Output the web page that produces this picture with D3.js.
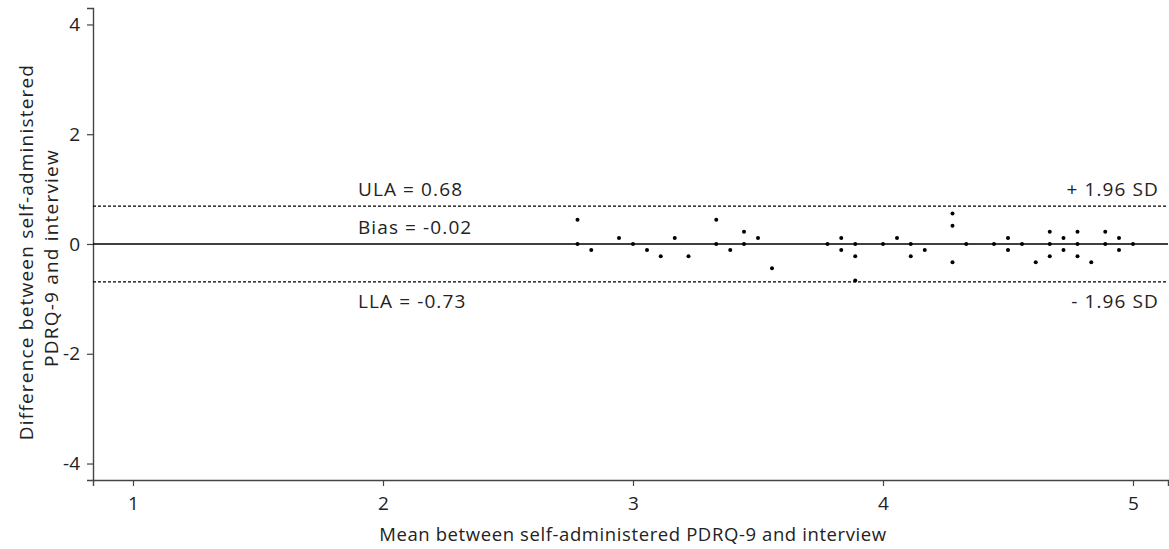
<!DOCTYPE html>
<html>
<head>
<meta charset="utf-8">
<script src="https://cdn.jsdelivr.net/npm/d3@7"></script>
<style>
  body { margin: 0; background: #fff; }
  svg text { font-family: "Open Sans", sans-serif; fill: #222; }
</style>
</head>
<body>
<div id="chart"></div>
<script>
// Bland-Altman: mean vs difference (self-administered vs interview)
var meanVals = [2.778, 2.778, 2.833, 2.944, 3.000, 3.056, 3.111, 3.167, 3.222,
    3.333, 3.333, 3.389, 3.444, 3.444, 3.500, 3.556,
    3.778, 3.833, 3.833, 3.889, 3.889, 3.889, 4.000, 4.056, 4.111, 4.111, 4.167,
    4.278, 4.278, 4.278, 4.333, 4.444, 4.500, 4.500, 4.556, 4.611,
    4.667, 4.667, 4.667, 4.722, 4.722, 4.778, 4.778, 4.778, 4.833,
    4.889, 4.889, 4.944, 4.944, 5.000];
var diffVals = [0.444, 0.000, -0.111, 0.111, 0.000, -0.111, -0.222, 0.111, -0.222,
    0.444, 0.000, -0.111, 0.222, 0.000, 0.111, -0.444,
    0.000, 0.111, -0.111, 0.000, -0.222, -0.667, 0.000, 0.111, 0.000, -0.222, -0.111,
    0.556, 0.333, -0.333, 0.000, 0.000, 0.111, -0.111, 0.000, -0.333,
    0.222, 0.000, -0.222, 0.111, -0.111, 0.222, 0.000, -0.222, -0.333,
    0.222, 0.000, 0.111, -0.111, 0.000];
var xTicks = [1, 2, 3, 4, 5];
var yTicks = [4, 2, 0, -2, -4];
// reference lines as drawn: upper limit, bias, lower limit
var refLines = [0.69, 0, -0.69];
var leftLabels = ["ULA = 0.68", "Bias = -0.02", "LLA = -0.73"];
var rightLabels = ["+ 1.96 SD", "", "- 1.96 SD"];
var xTitle = "Mean between self-administered PDRQ-9 and interview";
var yTitle = ["Difference between self-administered", "PDRQ-9 and interview"];

var width = 1169, height = 549;
var margin = { top: 8, right: 1, bottom: 69, left: 93 };

var svg = d3.select('#chart').append('svg')
    .attr('width', width)
    .attr('height', height);

var x = d3.scaleLinear().domain([0.84, 5.14]).range([margin.left, width - margin.right]);
var y = d3.scaleLinear().domain([-4.3, 4.3]).range([height - margin.bottom, margin.top]);

// plain hyphen for negatives, like the original
var fmt = function (d) { return d < 0 ? '-' + Math.abs(d) : String(d); };

// axes
var xAxis = svg.append('g')
    .attr('transform', 'translate(0,' + (height - margin.bottom) + ')')
    .call(d3.axisBottom(x).tickValues(xTicks).tickSize(6).tickPadding(11).tickFormat(fmt));
var yAxis = svg.append('g')
    .attr('transform', 'translate(' + margin.left + ',0)')
    .call(d3.axisLeft(y).tickValues(yTicks).tickSize(6).tickPadding(7).tickFormat(fmt));
[xAxis, yAxis].forEach(function (g) {
    g.select('.domain').attr('stroke', '#444').attr('stroke-width', 1.4);
    g.selectAll('.tick line').attr('stroke', '#444').attr('stroke-width', 1.2);
    g.selectAll('.tick text').style('font-size', '19px').attr('fill', '#222');
});

// reference lines
svg.selectAll('line.ref')
    .data(refLines)
    .enter().append('line')
    .attr('class', 'ref')
    .attr('x1', margin.left)
    .attr('x2', width - margin.right)
    .attr('y1', function (d) { return y(d); })
    .attr('y2', function (d) { return y(d); })
    .attr('stroke', '#000')
    .attr('stroke-width', function (d, i) { return i === 1 ? 1.6 : 1.1; })
    .attr('stroke-dasharray', function (d, i) { return i === 1 ? null : '3,2'; });

// labels on the lines
var labelDy = [-10, -10, 26];
svg.selectAll('text.lab-left')
    .data(leftLabels)
    .enter().append('text')
    .attr('class', 'lab-left')
    .attr('x', x(1.9))
    .attr('y', function (d, i) { return y(refLines[i]) + labelDy[i]; })
    .style('font-size', '19px')
    .style('letter-spacing', '1.1px')
    .text(function (d) { return d; });
svg.selectAll('text.lab-right')
    .data(rightLabels)
    .enter().append('text')
    .attr('class', 'lab-right')
    .attr('x', x(5.1) + 1)
    .attr('y', function (d, i) { return y(refLines[i]) + labelDy[i]; })
    .attr('text-anchor', 'end')
    .style('font-size', '19px')
    .style('letter-spacing', '1.1px')
    .text(function (d) { return d; });

// points
svg.selectAll('circle.pt')
    .data(meanVals)
    .enter().append('circle')
    .attr('class', 'pt')
    .attr('cx', function (d) { return x(d); })
    .attr('cy', function (d, i) { return y(diffVals[i]); })
    .attr('r', 2)
    .attr('fill', '#000');

// axis titles
svg.append('text')
    .attr('x', x(3))
    .attr('y', 541)
    .attr('text-anchor', 'middle')
    .style('font-size', '18.5px')
    .style('letter-spacing', '0.6px')
    .text(xTitle);
svg.selectAll('text.ytitle')
    .data(yTitle)
    .enter().append('text')
    .attr('class', 'ytitle')
    .attr('transform', function (d, i) {
        return 'translate(' + (33 + i * 25) + ',' + (252 + i * 6) + ') rotate(-90)';
    })
    .attr('text-anchor', 'middle')
    .style('font-size', '19px')
    .style('letter-spacing', '1.2px')
    .text(function (d) { return d; });
</script>
</body>
</html>
